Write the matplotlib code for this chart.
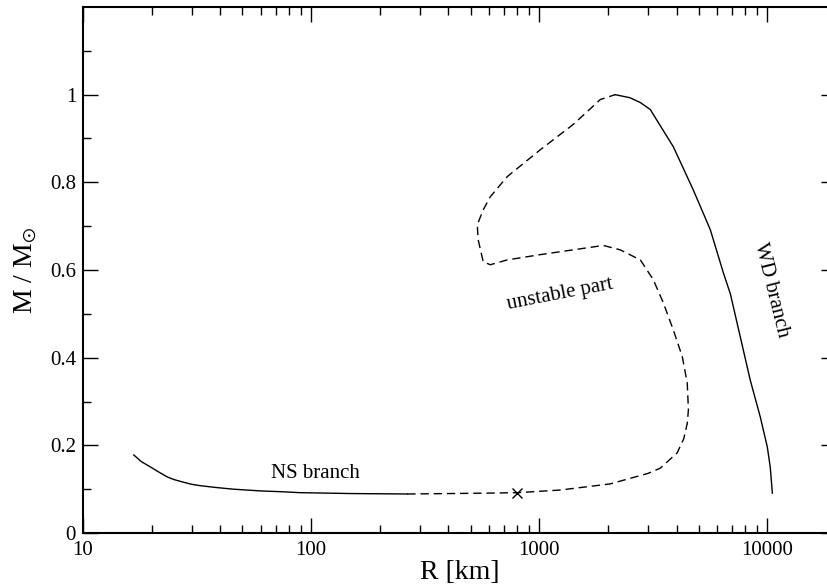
import matplotlib
matplotlib.use("Agg")
import matplotlib.pyplot as plt
from matplotlib.ticker import FixedLocator, FuncFormatter, NullFormatter

plt.rcParams['font.family'] = ['Liberation Serif', 'DejaVu Serif']
plt.rcParams['mathtext.fontset'] = 'stix'

# stable neutron star branch (solid)
ns_r = [16.7, 18, 19.7, 21.5, 23.4, 25, 27.5, 30, 32.6, 38, 45.5, 60, 75.4, 89.5, 150, 264]
ns_m = [0.178, 0.163, 0.151, 0.139, 0.128, 0.122, 0.116, 0.111, 0.108, 0.104, 0.100,
        0.096, 0.094, 0.092, 0.090, 0.089]

# unstable part (dashed)
un_r = [264, 400, 600, 802, 1236, 2046, 3000, 3396, 4027, 4300, 4456, 4508, 4456,
        4240, 3873, 3500, 3162, 2775, 2265, 1910, 1409, 1009, 724, 610, 568, 540,
        535, 568, 610, 724, 1009, 1409, 1854, 2153]
un_m = [0.089, 0.090, 0.091, 0.092, 0.098, 0.112, 0.136, 0.148, 0.183, 0.215, 0.250,
        0.281, 0.342, 0.402, 0.463, 0.525, 0.578, 0.623, 0.646, 0.656, 0.646, 0.635,
        0.623, 0.612, 0.619, 0.669, 0.703, 0.737, 0.767, 0.813, 0.874, 0.932, 0.989, 1.0]

# stable white dwarf branch (solid)
wd_r = [2153, 2500, 2775, 3069, 3873, 4732, 5623, 6412, 6890, 8414, 9310,
        10000, 10300, 10520]
wd_m = [1.0, 0.993, 0.982, 0.966, 0.881, 0.783, 0.692, 0.594, 0.545, 0.349,
        0.265, 0.196, 0.150, 0.091]

# marked configuration
mark_r = [802]
mark_m = [0.092]

fig = plt.figure(figsize=(8.28, 5.86), dpi=100)
ax = fig.add_axes([83 / 828, 53 / 586, 753 / 828, 526 / 586])

ax.plot(ns_r, ns_m, color='black', lw=1.0)
ax.plot(un_r, un_m, color='black', lw=1.0, dashes=(6, 3.5))
ax.plot(wd_r, wd_m, color='black', lw=1.0)
ax.plot(mark_r, mark_m, 'x', color='black', ms=7, mew=1.0)

ax.set_xscale('log')
ax.set_xlim(10, 20000)
ax.set_ylim(0, 1.2)

ax.yaxis.set_major_locator(FixedLocator([0, 0.2, 0.4, 0.6, 0.8, 1.0]))
ax.yaxis.set_minor_locator(FixedLocator([0.1, 0.3, 0.5, 0.7, 0.9, 1.1]))
fmt = FuncFormatter(lambda v, p: '%g' % v)
ax.yaxis.set_major_formatter(fmt)
ax.xaxis.set_major_formatter(fmt)
ax.xaxis.set_minor_formatter(NullFormatter())

ax.tick_params(which='both', direction='in', top=True, right=True, width=1.0)
ax.tick_params(which='major', length=11, labelsize=15)
ax.tick_params(which='minor', length=6)
ax.tick_params(axis='x', which='major', pad=6)
ax.tick_params(axis='y', which='major', pad=5)
for s in ax.spines.values():
    s.set_linewidth(1.5)

ax.set_xlabel('R [km]', fontsize=20, labelpad=0)
ax.set_ylabel(r'M / M$_{\odot}$', fontsize=20, labelpad=8)

ax.text(104, 0.135, 'NS branch', fontsize=15, ha='center', va='center')
ax.text(1236, 0.545, 'unstable part', fontsize=15, ha='center', va='center',
        rotation=11)
ax.text(10400, 0.555, 'WD branch', fontsize=15, ha='center', va='center',
        rotation=-76)

fig.savefig('out.png', dpi=100)
